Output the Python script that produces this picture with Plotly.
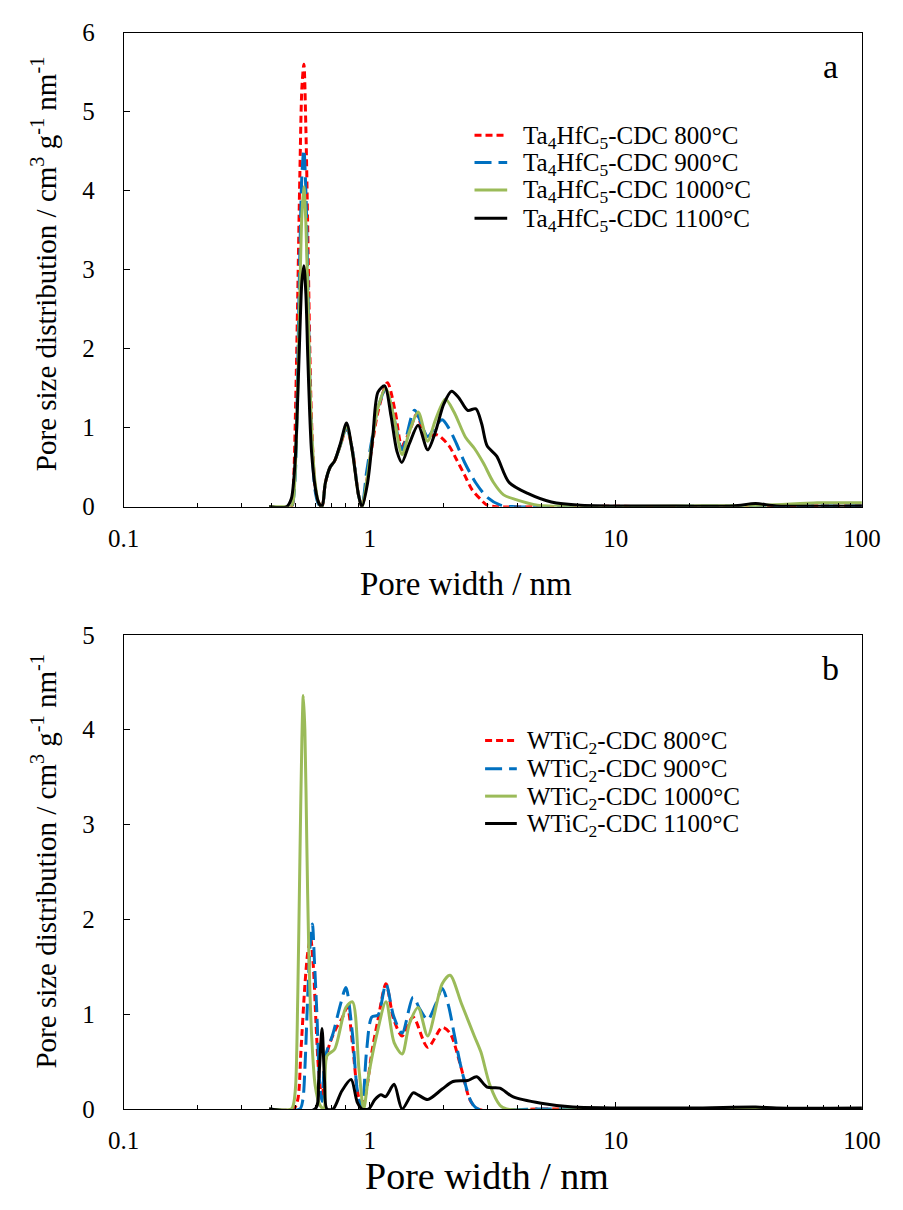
import plotly.graph_objects as go

# ---------------- Panel a: Ta4HfC5-CDC ----------------
a800_x = [0.39, 0.48, 0.49, 0.50, 0.51, 0.52, 0.53, 0.54, 0.55, 0.56, 0.57, 0.58, 0.60, 0.62, 0.64, 0.66, 0.69,
          0.72, 0.76, 0.805, 0.85, 0.90, 0.93, 0.97, 1.02, 1.08, 1.18, 1.27, 1.35, 1.45, 1.55, 1.69, 1.88, 2.1,
          2.25, 2.43, 2.6, 2.81, 3.0, 3.3, 5, 10, 20, 40, 70, 100]
a800_y = [0, 0, 0.3, 1.3, 2.7, 4.2, 5.3, 5.6, 4.8, 3.5, 2.1, 1.1, 0.25, 0.05, 0, 0.3, 0.5,
          0.58, 0.78, 0.99, 0.72, 0.15, 0, 0.3, 0.75, 1.2, 1.57, 1.2, 0.77, 0.95, 1.17, 0.89, 0.91, 0.77,
          0.6, 0.40, 0.22, 0.10, 0.02, 0, 0, 0.005, 0, 0.01, 0.01, 0.01]

a900_x = [0.39, 0.48, 0.49, 0.50, 0.51, 0.52, 0.53, 0.54, 0.55, 0.56, 0.57, 0.58, 0.60, 0.62, 0.64, 0.66, 0.69,
          0.72, 0.76, 0.805, 0.85, 0.90, 0.93, 0.97, 1.02, 1.08, 1.16, 1.25, 1.354, 1.52, 1.72, 1.85, 1.97,
          2.1, 2.25, 2.43, 2.7, 3.0, 3.4, 3.9, 10, 40, 100]
a900_y = [0, 0, 0.1, 0.5, 1.8, 3.2, 4.2, 4.52, 4.0, 2.9, 1.7, 0.9, 0.2, 0.03, 0, 0.3, 0.5,
          0.58, 0.78, 1.0, 0.72, 0.15, 0, 0.43, 0.85, 1.25, 1.48, 1.15, 0.72, 1.22, 0.89, 1.02, 1.1,
          0.99, 0.8, 0.56, 0.3, 0.12, 0.02, 0, 0, 0.01, 0.01]

a1000_x = [0.39, 0.46, 0.48, 0.49, 0.50, 0.51, 0.52, 0.53, 0.54, 0.55, 0.56, 0.57, 0.58, 0.60, 0.62, 0.64, 0.66,
           0.69, 0.72, 0.76, 0.805, 0.85, 0.90, 0.93, 0.97, 1.02, 1.08, 1.16, 1.25, 1.354, 1.45, 1.573, 1.72,
           1.85, 2.03, 2.2, 2.45, 2.66, 2.9, 3.18, 3.5, 3.93, 4.8, 7, 20, 40, 66, 100]
a1000_y = [0, 0, 0, 0.1, 0.6, 1.5, 2.7, 3.7, 4.05, 3.6, 2.7, 1.7, 1.0, 0.3, 0.05, 0, 0.3,
           0.5, 0.58, 0.78, 1.02, 0.7, 0.15, 0, 0.3, 0.8, 1.25, 1.5, 1.15, 0.66, 0.95, 1.20, 0.83,
           1.1, 1.36, 1.2, 0.88, 0.74, 0.55, 0.31, 0.15, 0.09, 0.02, 0.005, 0.01, 0.02, 0.05, 0.05]

a1100_x = [0.39, 0.46, 0.48, 0.49, 0.50, 0.51, 0.52, 0.53, 0.54, 0.55, 0.56, 0.57, 0.58, 0.60, 0.62, 0.64, 0.66,
           0.69, 0.72, 0.76, 0.805, 0.85, 0.90, 0.93, 0.98, 1.03, 1.08, 1.15, 1.22, 1.29, 1.35, 1.45, 1.573,
           1.72, 1.85, 2.0, 2.15, 2.3, 2.5, 2.7, 2.85, 3.0, 3.28, 3.68, 4.41, 5.47, 7.2, 15, 30, 37, 45, 100]
a1100_y = [0, 0, 0.1, 0.3, 0.7, 1.4, 2.2, 2.85, 3.05, 2.7, 1.9, 1.2, 0.7, 0.25, 0.05, 0, 0.3,
           0.5, 0.58, 0.8, 1.06, 0.7, 0.15, 0, 0.3, 0.9, 1.45, 1.53, 1.15, 0.7, 0.56, 0.8, 1.03,
           0.72, 0.95, 1.3, 1.46, 1.38, 1.22, 1.24, 1.05, 0.77, 0.64, 0.31, 0.165, 0.06, 0.02, 0.01, 0.01, 0.04,
           0.01, 0.01]

# ---------------- Panel b: WTiC2-CDC ----------------
b800_x = [0.39, 0.49, 0.51, 0.525, 0.545, 0.56, 0.575, 0.59, 0.605, 0.62, 0.64, 0.66, 0.69, 0.73, 0.77, 0.81,
          0.85, 0.89, 0.93, 0.97, 1.02, 1.08, 1.164, 1.25, 1.354, 1.50, 1.72, 1.97, 2.12, 2.36, 2.55, 2.75,
          5, 20, 100]
b800_y = [0, 0, 0.1, 0.6, 1.3, 1.65, 1.8, 1.5, 0.9, 0.4, 0.1, 0.5, 0.7, 0.85, 0.95, 1.07,
          0.7, 0.2, 0, 0.2, 0.6, 0.94, 1.32, 0.95, 0.77, 0.97, 0.65, 0.86, 0.80, 0.42, 0.1, 0,
          0, 0, 0]

b900_x = [0.39, 0.52, 0.535, 0.545, 0.56, 0.575, 0.585, 0.595, 0.61, 0.625, 0.64, 0.66, 0.71, 0.76, 0.80,
          0.85, 0.89, 0.93, 0.97, 1.02, 1.08, 1.164, 1.25, 1.354, 1.50, 1.60, 1.72, 1.85, 1.97, 2.08, 2.22,
          2.36, 2.58, 2.75, 5, 100]
b900_y = [0, 0, 0.1, 0.42, 1.2, 1.8, 1.95, 1.6, 1.0, 0.3, 0.08, 0.55, 0.8, 1.1, 1.28,
          0.8, 0.2, 0, 0.6, 0.97, 0.99, 1.32, 0.98, 0.80, 1.18, 1.05, 0.94, 1.1, 1.27, 1.11, 0.75,
          0.42, 0.08, 0, 0, 0]

b1000_x = [0.39, 0.48, 0.49, 0.50, 0.51, 0.52, 0.53, 0.537, 0.545, 0.555, 0.565, 0.58, 0.60, 0.625, 0.65, 0.67,
           0.72, 0.80, 0.851, 0.904, 0.945, 0.989, 1.065, 1.164, 1.256, 1.354, 1.45, 1.573, 1.72, 1.97, 2.12,
           2.36, 2.66, 2.83, 3.08, 3.38, 3.6, 10, 100]
b1000_y = [0, 0, 0.05, 0.25, 1.2, 2.6, 3.9, 4.36, 4.0, 2.8, 1.7, 0.8, 0.25, 0.05, 0, 0.56,
           0.63, 1.07, 1.13, 0.42, 0, 0.35, 0.77, 1.13, 0.70, 0.58, 0.90, 1.07, 0.77, 1.32, 1.41,
           1.11, 0.77, 0.60, 0.25, 0.04, 0, 0, 0]

b1100_x = [0.39, 0.60, 0.62, 0.64, 0.655, 0.67, 0.71, 0.77, 0.84, 0.89, 0.93, 0.99, 1.05, 1.11, 1.16,
           1.256, 1.354, 1.50, 1.57, 1.72, 1.97, 2.18, 2.5, 2.72, 3.0, 3.38, 3.81, 4.97, 6.7, 20, 37, 45, 100]
b1100_y = [0, 0, 0.3, 0.85, 0.3, 0, 0, 0.19, 0.31, 0.07, 0, 0, 0.1, 0.15, 0.13,
           0.26, 0, 0.17, 0.15, 0.1, 0.21, 0.29, 0.30, 0.34, 0.23, 0.22, 0.13, 0.06, 0.02, 0.01, 0.02, 0.01, 0.01]

temps = ["800°C", "900°C", "1000°C", "1100°C"]
name_a = "Ta<sub>4</sub>HfC<sub>5</sub>-CDC "
name_b = "WTiC<sub>2</sub>-CDC "

styles = [
    dict(color="#FF0000", width=3, dash="7px,4px"),
    dict(color="#0070C0", width=3, dash="17px,7px"),
    dict(color="#9BBB59", width=3, dash="solid"),
    dict(color="#000000", width=3, dash="solid"),
]

FONT = "Liberation Serif"

fig = go.Figure()

series_a = [(a800_x, a800_y), (a900_x, a900_y), (a1000_x, a1000_y), (a1100_x, a1100_y)]
series_b = [(b800_x, b800_y), (b900_x, b900_y), (b1000_x, b1000_y), (b1100_x, b1100_y)]

for (xs, ys), t, st in zip(series_a, temps, styles):
    fig.add_trace(go.Scatter(x=xs, y=ys, mode="lines", name=name_a + t, showlegend=False,
                             line=dict(shape="spline", smoothing=0.8, **st), xaxis="x", yaxis="y"))
for (xs, ys), t, st in zip(series_b, temps, styles):
    fig.add_trace(go.Scatter(x=xs, y=ys, mode="lines", name=name_b + t, showlegend=False,
                             line=dict(shape="spline", smoothing=0.8, **st), xaxis="x2", yaxis="y2"))

W, H = 903, 1210
x0, x1 = 112 / W, 880 / W
ya = [1 - 505 / H, 1 - 20 / H]
yb = [1 - 1121 / H, 1 - 636 / H]

common_x = dict(type="log", range=[-1, 2], tickvals=[0.1, 1, 10, 100], ticktext=["0.1", "1", "10", "100"],
                ticks="inside", ticklen=7, tickcolor="black", showline=True, linecolor="black", linewidth=1,
                mirror=True, showgrid=False, zeroline=False,
                minor=dict(ticks="inside", ticklen=4, tickcolor="black", dtick="D1", showgrid=False),
                tickfont=dict(family=FONT, size=25, color="black"), ticklabelstandoff=9,
                domain=[x0, x1])
common_y = dict(ticks="inside", ticklen=6, tickcolor="black", showline=True, linecolor="black", linewidth=1,
                mirror=True, showgrid=False, zeroline=False, dtick=1,
                tickfont=dict(family=FONT, size=25, color="black"), ticklabelstandoff=23)

fig.update_layout(
    width=W, height=H, margin=dict(l=0, r=0, t=0, b=0),
    paper_bgcolor="white", plot_bgcolor="white",
    font=dict(family=FONT, color="black"),
    xaxis=dict(anchor="y", **common_x),
    yaxis=dict(anchor="x", domain=ya, range=[0, 6], **common_y),
    xaxis2=dict(anchor="y2", **common_x),
    yaxis2=dict(anchor="x2", domain=yb, range=[0, 5], **common_y),
    showlegend=False,
)

# legend (drawn as sample lines + labels)
leg_a_rows = [125, 153, 181, 210]
leg_b_rows = [744, 773, 801, 829]
for names, rows, lx0, lx1, tx in [(name_a, leg_a_rows, 477, 511, 525), (name_b, leg_b_rows, 488, 521, 530)]:
    for t, st, r in zip(temps, styles, rows):
        fig.add_shape(type="line", xref="paper", yref="paper", x0=lx0 / W, x1=lx1 / W,
                      y0=1 - r / H, y1=1 - r / H, line=dict(color=st["color"], width=st["width"], dash=st["dash"]))
        fig.add_annotation(xref="paper", yref="paper", x=tx / W, y=1 - (r + 2) / H, xanchor="left",
                           yanchor="middle", showarrow=False, text=names + t,
                           font=dict(family=FONT, size=25, color="black"))

ytitle = "Pore size distribution / cm<sup>3</sup> g<sup>-1</sup> nm<sup>-1</sup>"
ann = [
    dict(text=ytitle, x=29 / W, y=1 - 257 / H, textangle=-90, font=dict(family=FONT, size=29, color="black")),
    dict(text=ytitle, x=29 / W, y=1 - 868 / H, textangle=-90, font=dict(family=FONT, size=29, color="black")),
    dict(text="Pore width / nm", x=468 / W, y=1 - 584 / H, font=dict(family=FONT, size=33, color="black")),
    dict(text="Pore width / nm", x=490 / W, y=1 - 1190 / H, font=dict(family=FONT, size=38, color="black")),
    dict(text="a", x=847 / W, y=1 - 55 / H, font=dict(family=FONT, size=34, color="black")),
    dict(text="b", x=847 / W, y=1 - 670 / H, font=dict(family=FONT, size=34, color="black")),
]
for a in ann:
    fig.add_annotation(xref="paper", yref="paper", showarrow=False, xanchor="center", yanchor="middle", **a)

fig.write_html("out.html")
